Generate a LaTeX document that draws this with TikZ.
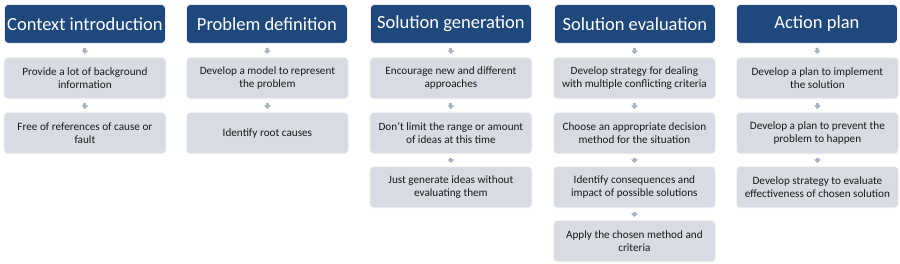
\documentclass[tikz,border=0pt]{standalone}
\usepackage{fontspec}
\setmainfont{Carlito}
\usetikzlibrary{arrows.meta}
\definecolor{hdrblue}{HTML}{1F497D}
\definecolor{subgray}{HTML}{D8DBE1}
\definecolor{arrgray}{HTML}{A9B0BE}
\definecolor{txtdark}{HTML}{1A1A1A}
\begin{document}
\begin{tikzpicture}[x=1pt,y=-1pt,
  hdr/.style={draw=white!85!gray, line width=0.8pt, fill=hdrblue, rounded corners=4pt,
    minimum width=161pt, minimum height=39pt, text=white, font=\fontsize{18.5}{21}\selectfont,
    inner sep=0pt, anchor=north west},
  sub/.style={draw=white!92!gray, line width=0.8pt, fill=subgray, rounded corners=4pt,
    minimum width=162pt, minimum height=41.5pt, text=txtdark, align=center,
    font=\fontsize{11.2}{12.5}\selectfont, inner sep=0pt, anchor=north west},
  conn/.style={draw=arrgray, line width=3pt, -{Triangle[width=6.5pt,length=3.5pt]},
    shorten <=4pt, shorten >=3pt}]
\useasboundingbox (0,0) rectangle (900,264);
% column 1
\node[hdr] (h1) at (4,4) {Context introduction};
\node[sub] (a1) at (3.5,57) {Provide a lot of background\\information};
\node[sub] (a2) at (3.5,112) {Free of references of cause or\\fault};
% column 2
\node[hdr] (h2) at (186,4) {Problem definition};
\node[sub] (b1) at (186,57) {Develop a model to represent\\the problem};
\node[sub] (b2) at (186,112) {Identify root causes};
% column 3
\node[hdr] (h3) at (370,4) {Solution generation};
\node[sub] (c1) at (369.5,57) {Encourage new and different\\approaches};
\node[sub] (c2) at (369.5,112) {Don’t limit the range or amount\\of ideas at this time};
\node[sub] (c3) at (369.5,166) {Just generate ideas without\\evaluating them};
% column 4
\node[hdr] (h4) at (554,4) {Solution evaluation};
\node[sub] (d1) at (553,57) {Develop strategy for dealing\\with multiple conflicting criteria};
\node[sub] (d2) at (553,112) {Choose an appropriate decision\\method for the situation};
\node[sub] (d3) at (553,166) {Identify consequences and\\impact of possible solutions};
\node[sub] (d4) at (553,220) {Apply the chosen method and\\criteria};
% column 5
\node[hdr] (h5) at (736,4) {Action plan};
\node[sub] (e1) at (736,57) {Develop a plan to implement\\the solution};
\node[sub] (e2) at (736,112) {Develop a plan to prevent the\\problem to happen};
\node[sub] (e3) at (736,166) {Develop strategy to evaluate\\effectiveness of chosen solution};
% connectors
\foreach \p/\q in {h1/a1,a1/a2,h2/b1,b1/b2,h3/c1,c1/c2,c2/c3,h4/d1,d1/d2,d2/d3,d3/d4,h5/e1,e1/e2,e2/e3}
  \draw[conn] (\p.south) -- (\q.north);
\end{tikzpicture}
\end{document}
